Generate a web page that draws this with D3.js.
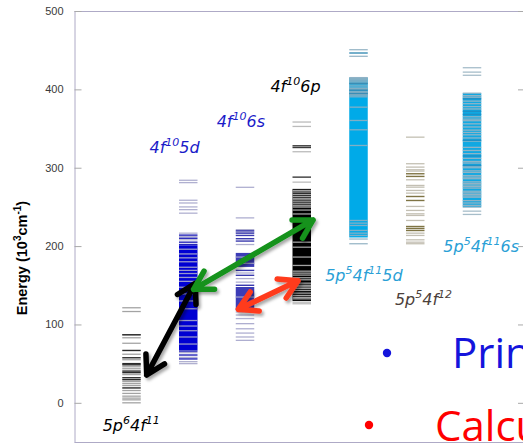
<!DOCTYPE html>
<html>
<head>
<meta charset="utf-8">
<script src="https://cdn.jsdelivr.net/npm/d3@7/dist/d3.min.js"></script>
<style>
  html, body { margin: 0; padding: 0; background: #fff; }
  svg { display: block; }
</style>
</head>
<body>
<svg id="chart" width="523" height="443"></svg>
<script>
// ---- Energy-level data (10^3 cm^-1) for each configuration ----
const configs = ["5p6 4f11", "4f10 5d", "4f10 6s", "4f10 6p", "5p5 4f11 5d", "5p5 4f12", "5p5 4f11 6s"];

// individual levels (lighter lines)
const levels1 = [121.3, 116.5, 87, 83, 76, 62, 55, 46, 43.5, 36, 27, 24.5, 22, 15.7, 12, 8.5, 6, 3.8, 0];
const levels2 = [284, 281, 258.5, 255, 250, 246.5, 242, 216.5, 212, 208, 196, 190, 185, 180, 173, 169, 165, 160, 155, 147.5, 139, 130, 120, 105, 98, 92, 84, 75, 64, 58, 52.5, 50];
const levels3 = [275, 236, 221, 218, 202, 186, 178, 165.7, 158.5, 154, 135, 116, 112, 107.5, 101, 94.5, 89, 84, 79.7];
const levels4 = [358.3, 352.7, 320.4, 281.6, 271, 269, 266, 263.5, 261, 259, 256.5, 254, 251.5, 249.8, 246, 241, 205, 198.6, 186, 175.3, 168, 165.5, 163, 159.6, 157, 152.7, 150, 148, 146, 143.4, 140, 137, 134.5, 132.7, 128.4, 126.4];
const levels5 = [450.6, 442.2, 415, 414, 412.6, 411, 409.6, 408, 405.4, 403, 401.1, 400, 397, 396, 393.5, 392.6, 390.5, 377.3, 360.3, 348.4, 328.4, 232.7, 229.3, 226.3, 220, 216.5, 213.6, 209, 203];
const levels6 = [339, 305.1, 300.8, 297.4, 295.7, 284.6, 277.4, 275.2, 271, 267.6, 250.6, 245.5, 241.2, 239.1, 232.7, 216.5, 213.6, 208, 205, 203];
const levels7 = [427.6, 422, 418, 395.2, 392, 390, 385, 381.7, 378, 375, 365, 362, 360, 356, 352, 348, 345, 342, 338, 334, 326, 322, 318, 312, 308, 306, 302, 300, 296, 294, 290, 288, 286, 282, 280, 278, 276, 274, 270, 268, 266, 264, 262.4, 258, 255, 252, 249.7, 244.6, 240.4];

// clustered levels (darker lines)
const strong1 = [86.8, 66.8, 57.5, 50, 48.5, 40.5, 38.5, 32, 29.5, 19];
const strong2 = [214, 210, 205, 202, 66, 61, 56];
const strong3 = [219.5, 216.5, 213.6, 209.4, 206.4, 169, 162.7, 150];
const strong4 = [328, 325.8, 288];
const strong5 = [446.4, 407.5, 399, 394.7];
const strong6 = [292.3, 288.9, 263.3, 258.2, 225, 222.5, 219.9];
const strong7 = [388, 372, 368, 335, 315, 303];

// ranges where levels are too dense to separate
const bands1 = [];
const bands2 = [[67, 201]];
const bands3 = [[173.4, 191.3], [118, 147.8]];
const bands4 = [[130, 273]];
const bands5 = [[211, 415]];
const bands6 = [];
const bands7 = [[249.7, 395.2]];

// configuration labels: [main, sup, main, sup, main ...]
const labelParts = [
  ["5p", "6", "4f", "11"],
  ["4f", "10", "5d"],
  ["4f", "10", "6s"],
  ["4f", "10", "6p"],
  ["5p", "5", "4f", "11", "5d"],
  ["5p", "5", "4f", "12"],
  ["5p", "5", "4f", "11", "6s"]
];

const yTicks = [0, 100, 200, 300, 400, 500];

// transitions between configurations: [config, energy]
const transitions = [
  { from: ["5p6 4f11", 35.5], to: ["4f10 5d", 152.5], kind: "black" },
  { from: ["4f10 5d", 144.9], to: ["4f10 6p", 233.3], kind: "green" },
  { from: ["4f10 6s", 119.3], to: ["4f10 6p", 155.8], kind: "red" }
];

const bulletTexts = ["Prin", "Calcu"];

// ---- Styles & layout ----
const colStyle = [
  { line: "#9a9a9a", strong: "#2a2a2a", band: "#000" },
  { line: "#a8a8cc", strong: "#2424b8", band: "#0000d2" },
  { line: "#a6a6cc", strong: "#3a3aae", band: "#3c3cb6" },
  { line: "#b4b4b4", strong: "#3a3a3a", band: "#000000" },
  { line: "#8fb0c2", strong: "#3a8db5", band: "#00aae8" },
  { line: "#bdb9ab", strong: "#7f7444", band: "#000" },
  { line: "#9db6c4", strong: "#1e90c6", band: "#10a8e2" }
];
const labelStyle = [
  { color: "#000000", dx: -28.8, e: -35.6 },
  { color: "#1b1bc9", dx: -38.7, e: 318.4 },
  { color: "#1b1bc9", dx: -28.3, e: 352.4 },
  { color: "#000000", dx: -31.3, e: 397 },
  { color: "#2a9fd6", dx: -33.3, e: 155.8 },
  { color: "#4c3f3b", dx: -20.3, e: 124.8 },
  { color: "#2a9fd6", dx: -28.7, e: 192.8 }
];
const arrowStyle = {
  black: { color: "#000000", dx0: 15.2, dx1: 7 },
  green: { color: "#12921a", dx0: 5.3, dx1: 11.3 },
  red:   { color: "#ff3b1f", dx0: -6.7, dx1: -3.7 }
};
const bulletStyle = [
  { color: "#1414dc", dot: [387, 353], text: [452, 368], size: 42 },
  { color: "#ff0000", dot: [369, 425], text: [435, 441], size: 42 }
];

const plotLeft = 74.5, plotRight = 524, plotTop = 11, plotBottom = 442;
const barW = 18.5;
const frameColor = "#aeaac6";

const levels = [levels1, levels2, levels3, levels4, levels5, levels6, levels7];
const strongs = [strong1, strong2, strong3, strong4, strong5, strong6, strong7];
const bands = [bands1, bands2, bands3, bands4, bands5, bands6, bands7];

const svg = d3.select("#chart");
const y = d3.scaleLinear().domain([-50, 500]).range([plotBottom, plotTop]);
const x = d3.scalePoint().domain(configs).range([131.5, 472]);

// shadow used by the transition arrows
const defs = svg.append("defs");
const f = defs.append("filter").attr("id", "shadow").attr("x", "-20%").attr("y", "-20%").attr("width", "140%").attr("height", "140%");
f.append("feDropShadow").attr("dx", 2).attr("dy", 2.5).attr("stdDeviation", 1.6)
  .attr("flood-color", "#000").attr("flood-opacity", 0.35);

// ---- Frame and axes ----
svg.append("line").attr("x1", plotLeft).attr("x2", plotRight).attr("y1", plotTop + 0.5).attr("y2", plotTop + 0.5)
  .attr("stroke", frameColor);
svg.append("line").attr("x1", plotLeft).attr("x2", plotRight).attr("y1", plotBottom + 0.5).attr("y2", plotBottom + 0.5)
  .attr("stroke", frameColor);

const yAxisL = svg.append("g").attr("transform", `translate(${plotLeft},0)`)
  .call(d3.axisLeft(y).tickValues(yTicks).tickSizeInner(-7).tickSizeOuter(0).tickPadding(11));
yAxisL.select(".domain").attr("stroke", frameColor);
yAxisL.selectAll(".tick line").attr("stroke", "#a9a9a9");
yAxisL.selectAll(".tick text").attr("fill", "#3a3a3a")
  .style("font-family", "'Liberation Sans', Arial, sans-serif").style("font-size", "11px");

const yAxisR = svg.append("g").attr("transform", `translate(${plotRight},0)`)
  .call(d3.axisRight(y).tickValues(yTicks).tickSizeInner(-6).tickSizeOuter(0).tickFormat(""));
yAxisR.select(".domain").attr("stroke", frameColor);
yAxisR.selectAll(".tick line").attr("stroke", "#a9a9a9");

const title = svg.append("text")
  .attr("transform", `translate(27,258) rotate(-90)`)
  .attr("text-anchor", "middle")
  .style("font-family", "'Liberation Sans', Arial, sans-serif")
  .style("font-weight", "bold").style("font-size", "14.5px").attr("fill", "#000");
title.append("tspan").text("Energy (10");
title.append("tspan").text("3").attr("dy", -6).style("font-size", "10px");
title.append("tspan").text("cm").attr("dy", 6);
title.append("tspan").text("-1").attr("dy", -6).style("font-size", "10px");
title.append("tspan").text(")").attr("dy", 6);

// ---- Level columns ----
configs.forEach((c, i) => {
  const g = svg.append("g");
  const x0 = x(c) - barW / 2;
  g.selectAll("rect.band").data(bands[i]).join("rect")
    .attr("x", x0).attr("width", barW)
    .attr("y", d => y(d[1])).attr("height", d => y(d[0]) - y(d[1]))
    .attr("fill", colStyle[i].band);
  g.selectAll("line.lv").data(levels[i]).join("line")
    .attr("x1", x0).attr("x2", x0 + barW)
    .attr("y1", d => y(d)).attr("y2", d => y(d))
    .attr("stroke", colStyle[i].line).attr("stroke-width", 1.3).attr("opacity", 0.9);
  g.selectAll("line.st").data(strongs[i]).join("line")
    .attr("x1", x0).attr("x2", x0 + barW)
    .attr("y1", d => y(d)).attr("y2", d => y(d))
    .attr("stroke", colStyle[i].strong).attr("stroke-width", 1.4);
});

// ---- Configuration labels ----
labelParts.forEach((parts, i) => {
  const s = labelStyle[i];
  const t = svg.append("text")
    .attr("x", x(configs[i]) + s.dx).attr("y", y(s.e))
    .attr("fill", s.color)
    .style("font-family", "'DejaVu Sans', sans-serif")
    .style("font-style", "italic").style("font-size", "16px");
  parts.forEach((p, k) => {
    const sup = k % 2 === 1;
    t.append("tspan").text(p)
      .attr("dy", sup ? -7 : (k > 0 ? 7 : 0))
      .style("font-size", sup ? "11px" : "16px");
  });
});

// ---- Transition arrows ----
function chevron(tip, toward, len, ang) {
  const dx = toward[0] - tip[0], dy = toward[1] - tip[1];
  const n = Math.hypot(dx, dy), ux = dx / n, uy = dy / n;
  const rot = a => [ux * Math.cos(a) - uy * Math.sin(a), ux * Math.sin(a) + uy * Math.cos(a)];
  const a = rot(ang), b = rot(-ang);
  return `M${tip[0] + a[0] * len},${tip[1] + a[1] * len}L${tip[0]},${tip[1]}L${tip[0] + b[0] * len},${tip[1] + b[1] * len}`;
}
transitions.forEach(tr => {
  const st = arrowStyle[tr.kind];
  const p0 = [x(tr.from[0]) + st.dx0, y(tr.from[1])];
  const p1 = [x(tr.to[0]) + st.dx1, y(tr.to[1])];
  const ang = 30 * Math.PI / 180, len = 21;
  const d = `M${p0[0]},${p0[1]}L${p1[0]},${p1[1]}` + chevron(p0, p1, len, ang) + chevron(p1, p0, len, ang);
  svg.append("path").attr("d", d)
    .attr("fill", "none").attr("stroke", st.color).attr("stroke-width", 5.5)
    .attr("stroke-linecap", "round").attr("stroke-linejoin", "round")
    .attr("filter", "url(#shadow)");
});

// ---- Bullet notes (run past the right edge of the slide) ----
bulletTexts.forEach((txt, i) => {
  const b = bulletStyle[i];
  svg.append("circle").attr("cx", b.dot[0]).attr("cy", b.dot[1]).attr("r", 4.2).attr("fill", b.color);
  svg.append("text").attr("x", b.text[0]).attr("y", b.text[1]).text(txt)
    .attr("fill", b.color)
    .style("font-family", "'Open Sans', sans-serif")
    .style("font-size", b.size + "px");
});
</script>
</body>
</html>
